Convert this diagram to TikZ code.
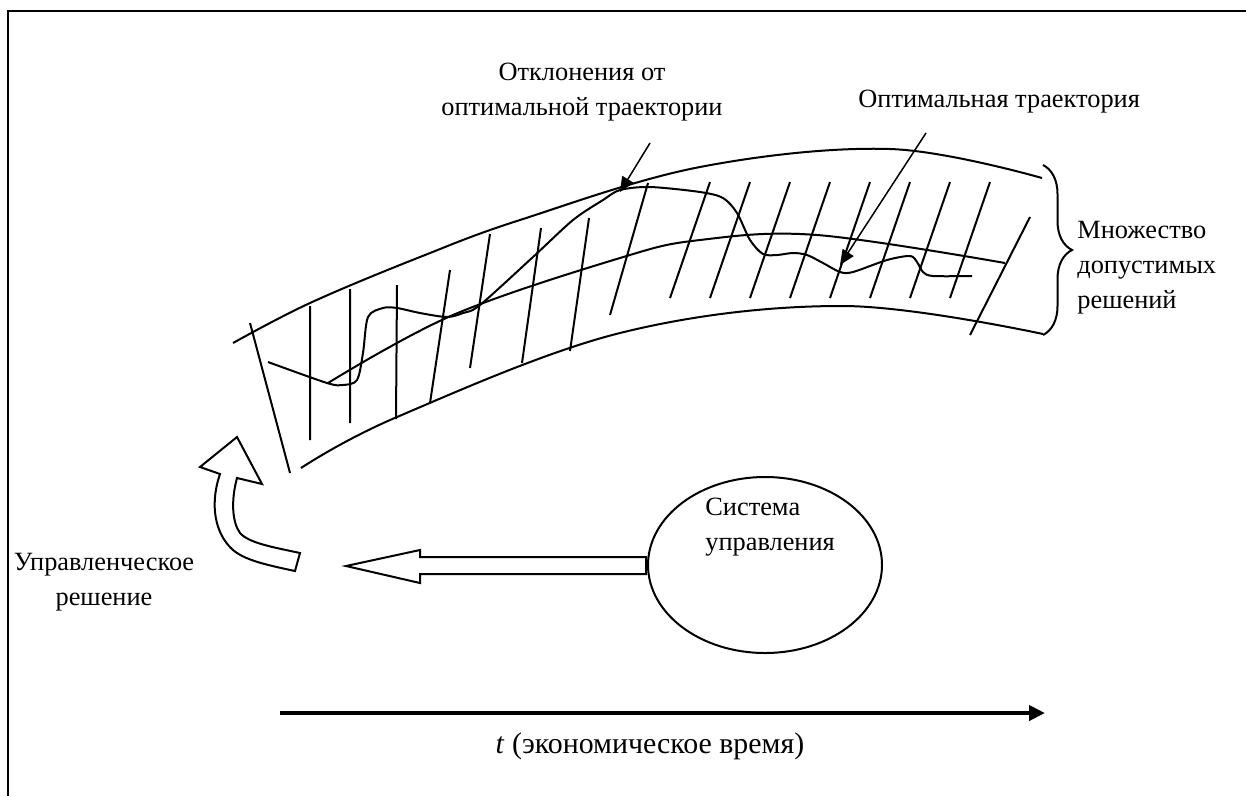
\documentclass[tikz,border=0pt]{standalone}
\usepackage{fontspec}
\setmainfont{Liberation Serif}
\usetikzlibrary{arrows.meta,positioning,shapes.geometric,decorations.pathreplacing}

\begin{document}
\begin{tikzpicture}[
  x=0.2mm,y=-0.2mm,
  every node/.style={font=\fontsize{15}{19.9}\selectfont,inner sep=0pt},
  txt/.style={align=center},
  border/.style={line width=0.35mm},
  curve/.style={line width=0.4mm},
  hatch/.style={line width=0.4mm},
  pointer/.style={-{Triangle[length=3mm,width=2.6mm]},line width=0.3mm},
  blockarrow/.style={draw,line width=0.4mm,fill=white},
  timeaxis/.style={-{Triangle[length=3.2mm,width=3mm]},line width=0.9mm}]
\useasboundingbox (0,0) rectangle (1246,796);
\clip (0,0) rectangle (1246,796);
\draw[border] (8,796) -- (8,11) -- (1246,11);

\draw[curve] plot[smooth,tension=0.6] coordinates {(233,343) (310,303) (420,257) (520,220) (700,167) (890,149) (1042,178)};
\draw[curve] plot[smooth,tension=0.6] coordinates {(328,383) (453,315) (620,258) (700,240) (817,235) (1005,263)};
\draw[curve] plot[smooth,tension=0.6] coordinates {(301,468) (397,417) (620,333) (843,306) (1043,334)};
\draw[curve] (250,323) -- (290,473);

\draw[hatch] (310,306) -- (310,440) (350,289) -- (350,423) (397,285) -- (396,419)
  (450,270) -- (430,403) (490,234) -- (470,368) (541,228) -- (522,363)
  (589,218) -- (570,351) (648,183) -- (610,315)
  (710,182) -- (670,298) (750,182) -- (710,298) (790,182) -- (750,298)
  (830,182) -- (790,298) (870,182) -- (830,298) (910,182) -- (870,298)
  (950,182) -- (910,298) (990,182) -- (950,298) (1030,217) -- (970,335);

\draw[curve] plot[smooth,tension=0.5] coordinates {(268,362) (327,383) (343,385) (357,380) (363,353) (368,317) (383,308) (397,308) (420,313) (447,317) (463,313) (480,305) (533,257) (573,220) (603,200) (620,190) (650,187) (700,192) (723,198) (737,213) (750,240) (763,254) (777,255) (793,253) (807,255) (823,263) (840,272) (853,272) (887,260) (910,256) (917,262) (923,272) (933,276) (972,276)};

\draw[curve,decorate,decoration={brace,amplitude=5.8mm}] (1043,165) -- (1043,335);
\node[anchor=base west,align=left] (feasible) at (1077,308) {Множество\\допустимых\\решений};

\node[txt,anchor=base] (deviation) at (582,115) {Отклонения от\\оптимальной траектории};
\node[anchor=base west] (optimal) at (858,107) {Оптимальная траектория};
\coordinate (devfrom) at (650,143);
\coordinate (devto) at (620,192);
\coordinate (optfrom) at (926,133);
\coordinate (optto) at (840,265);
\draw[pointer] (devfrom) -- (devto);
\draw[pointer] (optfrom) -- (optto);

\node[ellipse,draw,line width=0.4mm,minimum width=46.8mm,minimum height=35.2mm] (system) at (765,565) {};
\node[anchor=base west,align=left] (systxt) at (705,550) {Система\\управления};

\draw[blockarrow] (646,557) -- (420,557) -- (420,550) -- (346,566) -- (420,583) -- (420,574) -- (646,574) -- cycle;
\draw[blockarrow] (300,553) -- (295,571) .. controls (262,564) and (240,559) .. (229,546) .. controls (213,528) and (211,500) .. (220,474) -- (200,467) -- (237,437) -- (262,484) -- (237,478) .. controls (231,500) and (232,522) .. (240,533) .. controls (249,543) and (272,547) .. (300,553) -- cycle;
\node[txt,anchor=base] (decision) at (104,605) {Управленческое\\решение};

\coordinate (tstart) at (280,713);
\coordinate (tend) at (1045,713);
\draw[timeaxis] (tstart) -- (tend);
\node[anchor=base,font=\fontsize{17}{20}\selectfont] (timelbl) at (650,753) {\textit{t} (экономическое время)};
\end{tikzpicture}
\end{document}
